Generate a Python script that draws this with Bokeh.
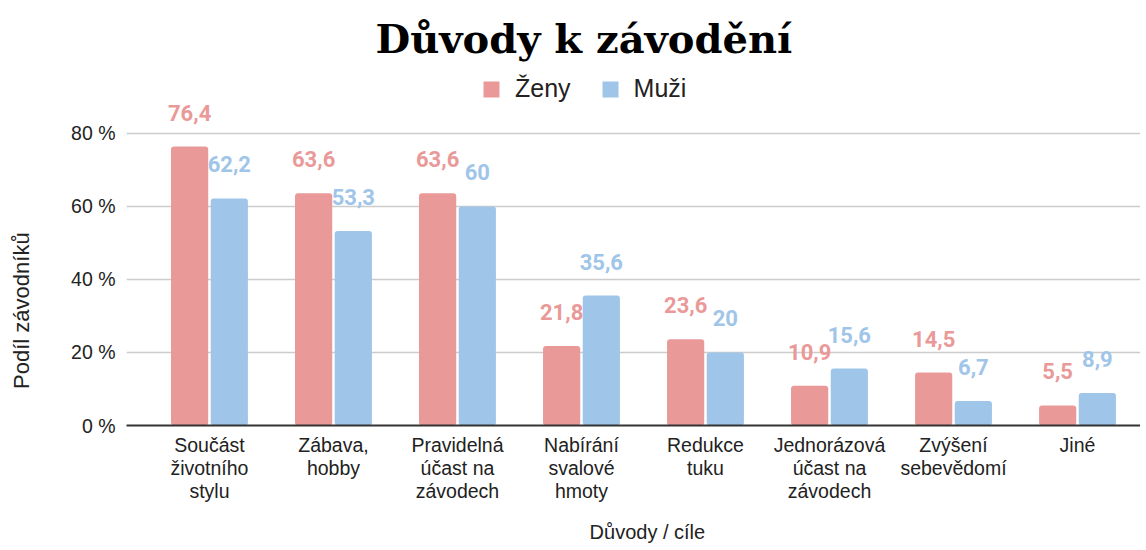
from bokeh.plotting import figure
from bokeh.models import (ColumnDataSource, FixedTicker, PrintfTickFormatter, Legend,
                          LegendItem, Range1d)
from bokeh.core.properties import value
from bokeh.embed import file_html
from bokeh.resources import INLINE

categories = ["Součást\nživotního\nstylu", "Zábava,\nhobby", "Pravidelná\núčast na\nzávodech",
              "Nabírání\nsvalové\nhmoty", "Redukce\ntuku", "Jednorázová\núčast na\nzávodech",
              "Zvýšení\nsebevědomí", "Jiné"]
zeny = [76.4, 63.6, 63.6, 21.8, 23.6, 10.9, 14.5, 5.5]
muzi = [62.2, 53.3, 60.0, 35.6, 20.0, 15.6, 6.7, 8.9]
y_ticks = [0, 20, 40, 60, 80]

PINK = "#EA9999"
BLUE = "#9FC5E8"
AXIS_FONT = "Liberation Sans"
NB = "\u00a0"

idx = list(range(len(categories)))
def fmt(v):
    return f"{v:g}".replace(".", ",")

src_z = ColumnDataSource(dict(x=[i - 0.16 for i in idx], y=zeny, lab=[fmt(v) for v in zeny]))
src_m = ColumnDataSource(dict(x=[i + 0.16 for i in idx], y=muzi, lab=[fmt(v) for v in muzi]))

p = figure(width=1140, height=546, output_backend="svg", toolbar_location=None,
           x_range=Range1d(-0.669, 7.508), y_range=Range1d(0, 96.4),
           min_border_left=126, min_border_right=0, min_border_top=72, min_border_bottom=121)

rz = p.vbar(x="x", top="y", width=0.30, source=src_z, color=PINK, line_color=None, border_radius=3)
rm = p.vbar(x="x", top="y", width=0.30, source=src_m, color=BLUE, line_color=None, border_radius=3)

for src, col in ((src_z, PINK), (src_m, BLUE)):
    p.text(x="x", y="y", text="lab", source=src, text_color=col, text_align="center",
           text_baseline="middle", y_offset=-34, text_font=value("Roboto"),
           text_font_style="bold", text_font_size="22px")

p.outline_line_color = None
p.xgrid.grid_line_color = None
p.ygrid.grid_line_color = "#cccccc"
p.ygrid.grid_line_width = 1.5
p.ygrid.ticker = FixedTicker(ticks=y_ticks)

# y axis
p.yaxis.ticker = FixedTicker(ticks=y_ticks)
p.yaxis.formatter = PrintfTickFormatter(format="%d %%")
p.yaxis.axis_line_color = None
p.yaxis.major_tick_line_color = None
p.yaxis.minor_tick_line_color = None
p.yaxis.major_tick_out = 0
p.yaxis.major_tick_in = 0
p.yaxis.minor_tick_out = 0
p.yaxis.major_label_text_font = AXIS_FONT
p.yaxis.major_label_text_font_size = "19.5px"
p.yaxis.major_label_text_color = "#222222"
p.yaxis.major_label_standoff = 11
p.yaxis.axis_label = "Podíl závodníků" + NB * 20
p.yaxis.axis_label_text_font = AXIS_FONT
p.yaxis.axis_label_text_font_size = "22px"
p.yaxis.axis_label_text_font_style = "normal"
p.yaxis.axis_label_text_color = "#222222"
p.yaxis.axis_label_standoff = 34

# x axis
p.xaxis.ticker = FixedTicker(ticks=idx)
p.xaxis.major_label_overrides = {i: c for i, c in zip(idx, categories)}
p.xaxis.axis_line_color = "#333333"
p.xaxis.axis_line_width = 2
p.xaxis.major_tick_line_color = None
p.xaxis.minor_tick_line_color = None
p.xaxis.major_tick_out = 0
p.xaxis.major_tick_in = 0
p.xaxis.minor_tick_out = 0
p.xaxis.major_label_text_font = AXIS_FONT
p.xaxis.major_label_text_font_size = "19.5px"
p.xaxis.major_label_text_line_height = 1.05
p.xaxis.major_label_text_color = "#222222"
p.xaxis.major_label_standoff = 8
p.xaxis.axis_label = NB * 5 + "Důvody / cíle"
p.xaxis.axis_label_text_font = AXIS_FONT
p.xaxis.axis_label_text_font_size = "20px"
p.xaxis.axis_label_text_font_style = "normal"
p.xaxis.axis_label_text_color = "#222222"
p.xaxis.axis_label_standoff = 16

legend = Legend(items=[LegendItem(label="Ženy", renderers=[rz]), LegendItem(label="Muži", renderers=[rm])],
                orientation="horizontal", location=(355, 322), border_line_color=None,
                background_fill_alpha=0, padding=0, margin=0, spacing=29, label_standoff=14,
                glyph_width=20, glyph_height=20, label_text_font=AXIS_FONT,
                label_text_font_size="25px", label_text_color="#222222")
p.add_layout(legend)

p.title.text = "Důvody k závodění"
p.title.align = "left"
p.title.offset = 249
p.title.standoff = 24
p.title.text_font = "DejaVu Serif"
p.title.text_font_style = "bold"
p.title.text_font_size = "40px"
p.title.text_color = "#000000"

open("out.html", "w").write(file_html(p, INLINE))
